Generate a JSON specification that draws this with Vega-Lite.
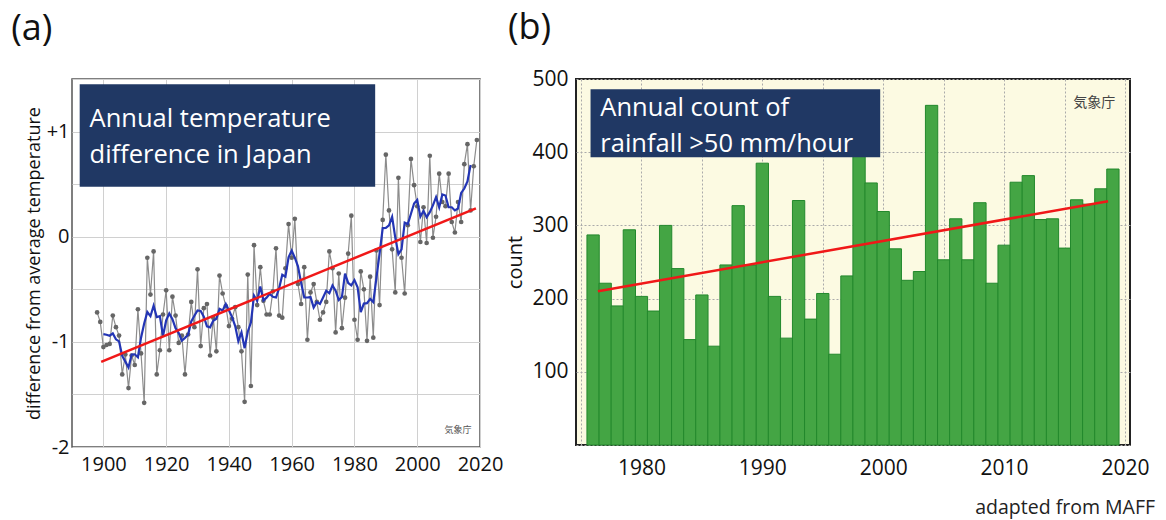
{
  "$schema": "https://vega.github.io/schema/vega-lite/v6.json",
  "padding": {"left": 10, "top": 9, "right": 5, "bottom": 5},
  "background": "white",
  "config": {
    "font": "Open Sans",
    "axis": {"domain": false, "ticks": false, "labelColor": "#111", "titleColor": "#111", "titleFontWeight": "normal", "labelFlush": false, "labelFont": "Open Sans", "titleFont": "Open Sans"}
  },
  "title": {"text": "adapted from MAFF", "orient": "bottom", "anchor": "end", "frame": "bounds", "fontSize": 19.5, "fontWeight": "normal", "font": "Open Sans", "color": "#222", "offset": 20, "dx": 5},
  "spacing": 0,
  "datasets": {
    "temp": [
      {"year": 1898, "t": -0.72}, {"year": 1899, "t": -0.81}, {"year": 1900, "t": -1.05}, {"year": 1901, "t": -1.03},
      {"year": 1902, "t": -1.02}, {"year": 1903, "t": -0.75}, {"year": 1904, "t": -0.86}, {"year": 1905, "t": -0.94},
      {"year": 1906, "t": -1.31}, {"year": 1907, "t": -1.12}, {"year": 1908, "t": -1.44}, {"year": 1909, "t": -1.13},
      {"year": 1910, "t": -1.22}, {"year": 1911, "t": -0.69}, {"year": 1912, "t": -1.11}, {"year": 1913, "t": -1.58},
      {"year": 1914, "t": -0.20}, {"year": 1915, "t": -0.55}, {"year": 1916, "t": -0.14}, {"year": 1917, "t": -1.31},
      {"year": 1918, "t": -1.08}, {"year": 1919, "t": -0.74}, {"year": 1920, "t": -0.51}, {"year": 1921, "t": -1.08},
      {"year": 1922, "t": -0.57}, {"year": 1923, "t": -0.75}, {"year": 1924, "t": -1.01}, {"year": 1925, "t": -0.94},
      {"year": 1926, "t": -1.31}, {"year": 1927, "t": -0.93}, {"year": 1928, "t": -0.62}, {"year": 1929, "t": -0.86},
      {"year": 1930, "t": -0.31}, {"year": 1931, "t": -1.04}, {"year": 1932, "t": -0.68}, {"year": 1933, "t": -0.64},
      {"year": 1934, "t": -1.13}, {"year": 1935, "t": -0.77}, {"year": 1936, "t": -1.09}, {"year": 1937, "t": -0.37},
      {"year": 1938, "t": -0.54}, {"year": 1939, "t": -0.66}, {"year": 1940, "t": -0.85}, {"year": 1941, "t": -0.78},
      {"year": 1942, "t": -0.67}, {"year": 1943, "t": -0.86}, {"year": 1944, "t": -1.09}, {"year": 1945, "t": -1.57},
      {"year": 1946, "t": -0.36}, {"year": 1947, "t": -1.42}, {"year": 1948, "t": -0.08}, {"year": 1949, "t": -0.65},
      {"year": 1950, "t": -0.29}, {"year": 1951, "t": -0.61}, {"year": 1952, "t": -0.74}, {"year": 1953, "t": -0.74},
      {"year": 1954, "t": -0.52}, {"year": 1955, "t": -0.11}, {"year": 1956, "t": -0.75}, {"year": 1957, "t": -0.77},
      {"year": 1958, "t": -0.30}, {"year": 1959, "t": 0.12}, {"year": 1960, "t": -0.20}, {"year": 1961, "t": 0.17},
      {"year": 1962, "t": -0.45}, {"year": 1963, "t": -0.64}, {"year": 1964, "t": -0.29}, {"year": 1965, "t": -0.98},
      {"year": 1966, "t": -0.53}, {"year": 1967, "t": -0.45}, {"year": 1968, "t": -0.62}, {"year": 1969, "t": -0.79},
      {"year": 1970, "t": -0.72}, {"year": 1971, "t": -0.62}, {"year": 1972, "t": -0.14}, {"year": 1973, "t": -0.30},
      {"year": 1974, "t": -0.91}, {"year": 1975, "t": -0.35}, {"year": 1976, "t": -0.87}, {"year": 1977, "t": -0.58},
      {"year": 1978, "t": -0.16}, {"year": 1979, "t": 0.20}, {"year": 1980, "t": -0.79}, {"year": 1981, "t": -0.98},
      {"year": 1982, "t": -0.33}, {"year": 1983, "t": -0.50}, {"year": 1984, "t": -0.99}, {"year": 1985, "t": -0.38},
      {"year": 1986, "t": -0.96}, {"year": 1987, "t": -0.13}, {"year": 1988, "t": -0.65}, {"year": 1989, "t": 0.16},
      {"year": 1990, "t": 0.78}, {"year": 1991, "t": 0.25}, {"year": 1992, "t": -0.12}, {"year": 1993, "t": -0.53},
      {"year": 1994, "t": 0.56}, {"year": 1995, "t": -0.20}, {"year": 1996, "t": -0.54}, {"year": 1997, "t": 0.11},
      {"year": 1998, "t": 0.74}, {"year": 1999, "t": 0.49}, {"year": 2000, "t": 0.29}, {"year": 2001, "t": -0.05},
      {"year": 2002, "t": 0.28}, {"year": 2003, "t": -0.06}, {"year": 2004, "t": 0.77}, {"year": 2005, "t": -0.01},
      {"year": 2006, "t": 0.19}, {"year": 2007, "t": 0.60}, {"year": 2008, "t": 0.33}, {"year": 2009, "t": 0.29},
      {"year": 2010, "t": 0.60}, {"year": 2011, "t": 0.14}, {"year": 2012, "t": 0.04}, {"year": 2013, "t": 0.33},
      {"year": 2014, "t": 0.14}, {"year": 2015, "t": 0.69}, {"year": 2016, "t": 0.88}, {"year": 2017, "t": 0.25},
      {"year": 2018, "t": 0.67}, {"year": 2019, "t": 0.92}
    ],
    "trendA": [{"year": 1899.3, "t": -1.19}, {"year": 2018.7, "t": 0.27}],
    "rain": [
      {"year": 1976, "c": 287}, {"year": 1977, "c": 221}, {"year": 1978, "c": 190}, {"year": 1979, "c": 294},
      {"year": 1980, "c": 203}, {"year": 1981, "c": 183}, {"year": 1982, "c": 300}, {"year": 1983, "c": 241},
      {"year": 1984, "c": 144}, {"year": 1985, "c": 205}, {"year": 1986, "c": 135}, {"year": 1987, "c": 246},
      {"year": 1988, "c": 327}, {"year": 1989, "c": 246}, {"year": 1990, "c": 385}, {"year": 1991, "c": 203},
      {"year": 1992, "c": 146}, {"year": 1993, "c": 334}, {"year": 1994, "c": 172}, {"year": 1995, "c": 207},
      {"year": 1996, "c": 124}, {"year": 1997, "c": 231}, {"year": 1998, "c": 405}, {"year": 1999, "c": 358},
      {"year": 2000, "c": 319}, {"year": 2001, "c": 268}, {"year": 2002, "c": 225}, {"year": 2003, "c": 237},
      {"year": 2004, "c": 464}, {"year": 2005, "c": 253}, {"year": 2006, "c": 309}, {"year": 2007, "c": 253},
      {"year": 2008, "c": 331}, {"year": 2009, "c": 221}, {"year": 2010, "c": 273}, {"year": 2011, "c": 359},
      {"year": 2012, "c": 368}, {"year": 2013, "c": 308}, {"year": 2014, "c": 309}, {"year": 2015, "c": 269},
      {"year": 2016, "c": 335}, {"year": 2017, "c": 329}, {"year": 2018, "c": 350}, {"year": 2019, "c": 377}
    ],
    "trendB": [{"year": 1976.4, "c": 210}, {"year": 2018.6, "c": 333}],
    "one": [{}]
  },
  "hconcat": [
    {
      "width": 408,
      "height": 368,
      "title": {"text": "(a)", "anchor": "start", "frame": "bounds", "fontSize": 36, "fontWeight": "normal", "font": "Open Sans", "color": "#111", "dx": -14, "offset": 21},
      "view": {"fill": "white", "stroke": "#555", "strokeWidth": 1.5},
      "layer": [
        {
          "data": {"name": "temp"},
          "mark": {"type": "line", "color": "#8c8c8c", "strokeWidth": 1.2},
          "encoding": {
            "x": {"field": "year", "type": "quantitative", "scale": {"domain": [1890, 2020], "nice": false, "zero": false},
              "axis": {"values": [1900, 1910, 1920, 1930, 1940, 1950, 1960, 1970, 1980, 1990, 2000, 2010, 2020],
                "format": "d", "labelOverlap": "parity", "title": null, "grid": true, "gridColor": "#d0d0d0", "labelFontSize": 20, "labelPadding": 7}},
            "y": {"field": "t", "type": "quantitative", "scale": {"domain": [-2, 1.5], "nice": false, "zero": false},
              "axis": {"values": [-2, -1.5, -1, -0.5, 0, 0.5, 1, 1.5], "labelOverlap": false,
                "labelExpr": "datum.value == 1 ? '+1' : datum.value == 0 ? '0' : datum.value == -1 ? '-1' : datum.value == -2 ? '-2' : ''",
                "title": "difference from average temperature", "titleFontSize": 18, "titlePadding": 3, "grid": true, "gridColor": "#d0d0d0", "labelFontSize": 20, "labelPadding": 3}}
          }
        },
        {
          "data": {"name": "temp"},
          "mark": {"type": "point", "filled": true, "color": "#666666", "size": 22, "opacity": 1},
          "encoding": {"x": {"field": "year", "type": "quantitative"}, "y": {"field": "t", "type": "quantitative"}}
        },
        {
          "data": {"name": "temp"},
          "transform": [
            {"window": [{"op": "mean", "field": "t", "as": "ma"}, {"op": "count", "as": "n"}], "frame": [-2, 2], "sort": [{"field": "year"}]},
            {"filter": "datum.n == 5"}
          ],
          "mark": {"type": "line", "color": "#2335b5", "strokeWidth": 2.2},
          "encoding": {"x": {"field": "year", "type": "quantitative"}, "y": {"field": "ma", "type": "quantitative"}}
        },
        {
          "data": {"name": "trendA"},
          "mark": {"type": "line", "color": "#f01818", "strokeWidth": 2.5},
          "encoding": {"x": {"field": "year", "type": "quantitative"}, "y": {"field": "t", "type": "quantitative"}}
        },
        {
          "data": {"name": "one"},
          "mark": {"type": "rect", "color": "#203864"},
          "encoding": {"x": {"datum": 1892.45}, "x2": {"datum": 1986.6}, "y": {"datum": 1.45}, "y2": {"datum": 0.476}}
        },
        {
          "data": {"name": "one"},
          "mark": {"type": "text", "text": ["Annual temperature", "difference in Japan"], "align": "left", "baseline": "alphabetic", "fontSize": 25.5, "lineHeight": 36.3, "color": "white", "font": "Open Sans"},
          "encoding": {"x": {"datum": 1895.6}, "y": {"datum": 1.046}}
        },
        {
          "data": {"name": "one"},
          "mark": {"type": "text", "text": "気象庁", "align": "center", "baseline": "alphabetic", "fontSize": 9, "color": "#555", "font": "Noto Sans CJK JP"},
          "encoding": {"x": {"datum": 2013}, "y": {"datum": -1.87}}
        }
      ]
    },
    {
      "width": 554,
      "height": 366,
      "title": {"text": "(b)", "anchor": "start", "frame": "bounds", "fontSize": 36, "fontWeight": "normal", "font": "Open Sans", "color": "#111", "dx": 2, "offset": 21},
      "view": {"fill": "#fcfae2", "stroke": "#222", "strokeWidth": 2},
      "layer": [
        {
          "data": {"name": "rain"},
          "mark": {"type": "bar", "width": 12.3, "color": "#44a544", "stroke": "#22882c", "strokeWidth": 1},
          "encoding": {
            "x": {"field": "year", "type": "quantitative", "scale": {"domain": [1975, 2020], "nice": false, "zero": false},
              "axis": {"values": [1975, 1980, 1985, 1990, 1995, 2000, 2005, 2010, 2015, 2020], "labelOverlap": false,
                "labelExpr": "datum.value % 10 == 0 ? '' + datum.value : ''", "title": null, "grid": true, "gridColor": "#aaaaaa", "gridDash": [2, 2], "labelFontSize": 21, "labelPadding": 12}},
            "y": {"field": "c", "type": "quantitative", "scale": {"domain": [0, 500], "nice": false},
              "axis": {"values": [0, 50, 100, 150, 200, 250, 300, 350, 400, 450, 500], "labelOverlap": false,
                "labelExpr": "datum.value % 100 == 0 && datum.value > 0 ? '' + datum.value : ''",
                "title": "count", "titleFontSize": 20, "titlePadding": 6, "grid": true, "gridColor": "#aaaaaa", "gridDash": [2, 2], "labelFontSize": 21, "labelPadding": 8}}
          }
        },
        {
          "data": {"name": "trendB"},
          "mark": {"type": "line", "color": "#f01818", "strokeWidth": 2.5},
          "encoding": {"x": {"field": "year", "type": "quantitative"}, "y": {"field": "c", "type": "quantitative"}}
        },
        {
          "data": {"name": "one"},
          "mark": {"type": "rect", "color": "#203864"},
          "encoding": {"x": {"datum": 1975.79}, "x2": {"datum": 1999.75}, "y": {"datum": 486}, "y2": {"datum": 393}}
        },
        {
          "data": {"name": "one"},
          "mark": {"type": "text", "text": ["Annual count of", "rainfall >50 mm/hour"], "align": "left", "baseline": "alphabetic", "fontSize": 25.5, "lineHeight": 35.7, "color": "white", "font": "Open Sans"},
          "encoding": {"x": {"datum": 1976.6}, "y": {"datum": 449.5}}
        },
        {
          "data": {"name": "one"},
          "mark": {"type": "text", "text": "気象庁", "align": "right", "baseline": "alphabetic", "fontSize": 14, "color": "#444", "font": "Noto Sans CJK JP"},
          "encoding": {"x": {"datum": 2019.2}, "y": {"datum": 462}}
        }
      ]
    }
  ]
}
